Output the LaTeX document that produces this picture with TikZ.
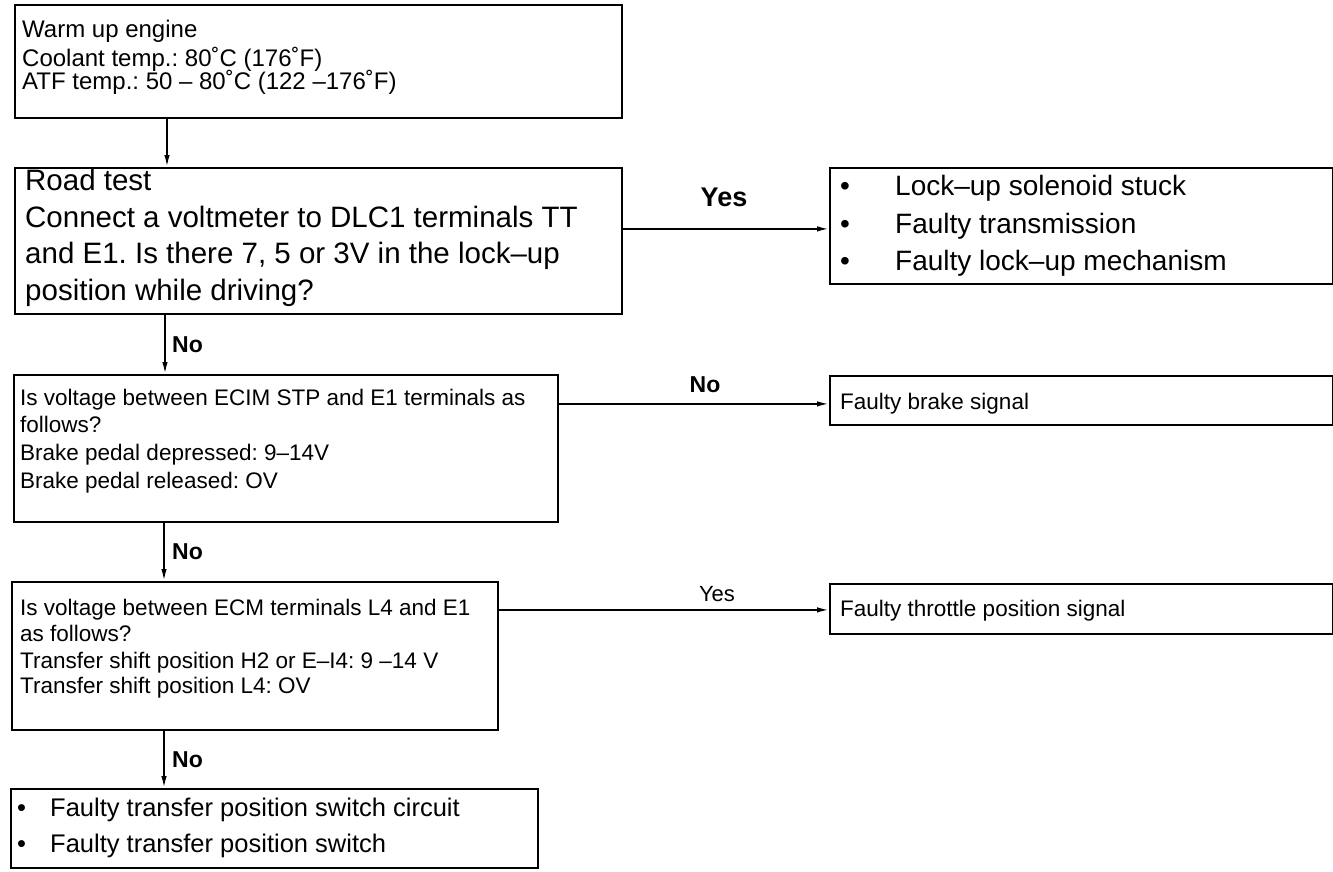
\documentclass[tikz,border=0pt]{standalone}
\usepackage{fontspec}
\setmainfont{Liberation Sans}
\usetikzlibrary{arrows.meta}
\frenchspacing
\newcommand{\fsz}[1]{\fontsize{#1}{#1}\selectfont}
\tikzset{
  box/.style={draw, line width=1.8pt, inner sep=0pt, anchor=north west},
  ln/.style={anchor=base west, inner sep=0pt},
  conn/.style={line width=1.8pt, -{Latex[length=12pt,width=5.5pt]}},
  lblb/.style={inner sep=0pt, font=\bfseries\fsz{23}},
  big/.style={font=\fsz{29.5}},
  bul/.style={font=\fsz{28}},
  mid/.style={font=\fsz{24}},
  sml/.style={font=\fsz{22.5}},
}
\begin{document}
\begin{tikzpicture}[x=1pt,y=-1pt]
\useasboundingbox (0,0) rectangle (1333,871);
% boxes
\node[box, minimum width=607, minimum height=113] (b1) at (14,4) {};
\node[box, minimum width=607, minimum height=146] (b2) at (14,167) {};
\node[box, minimum width=503, minimum height=116] (b3) at (829,167) {};
\node[box, minimum width=544, minimum height=147] (b4) at (13,374) {};
\node[box, minimum width=503, minimum height=49] (b5) at (829,375) {};
\node[box, minimum width=486, minimum height=148] (b6) at (11,581) {};
\node[box, minimum width=503, minimum height=50] (b7) at (829,583) {};
\node[box, minimum width=527, minimum height=79] (b8) at (10,788) {};
% box 1 text
\node[ln, mid] (t11) at (22,37) {Warm up engine};
\node[ln, mid] (t12) at (22,66) {Coolant temp.: 80˚C (176˚F)};
\node[ln, mid] (t13) at (22,89) {ATF temp.: 50 – 80˚C (122 –176˚F)};
% box 2 text
\node[ln, big] (t21) at (25,190) {Road test};
\node[ln, big] (t22) at (25,227) {Connect a voltmeter to DLC1 terminals TT};
\node[ln, big] (t23) at (25,263) {and E1. Is there 7, 5 or 3V in the lock–up};
\node[ln, big] (t24) at (25,300) {position while driving?};
% box 3 text
\node[ln, bul] (p31) at (840,195) {•};
\node[ln, bul] (t31) at (895,195) {Lock–up solenoid stuck};
\node[ln, bul] (p32) at (840,233) {•};
\node[ln, bul] (t32) at (895,233) {Faulty transmission};
\node[ln, bul] (p33) at (840,270) {•};
\node[ln, bul] (t33) at (895,270) {Faulty lock–up mechanism};
% box 4 text
\node[ln, sml] (t41) at (20,405) {Is voltage between ECIM STP and E1 terminals as};
\node[ln, sml] (t42) at (20,432) {follows?};
\node[ln, sml] (t43) at (20,460) {Brake pedal depressed: 9–14V};
\node[ln, sml] (t44) at (20,488) {Brake pedal released: OV};
% box 5 text
\node[ln, sml] (t51) at (840,409) {Faulty brake signal};
% box 6 text
\node[ln, sml] (t61) at (20,615) {Is voltage between ECM terminals L4 and E1};
\node[ln, sml] (t62) at (20,641) {as follows?};
\node[ln, sml] (t63) at (20,668) {Transfer shift position H2 or E–I4: 9 –14 V};
\node[ln, sml] (t64) at (20,693) {Transfer shift position L4: OV};
% box 7 text
\node[ln, sml] (t71) at (840,616) {Faulty throttle position signal};
% box 8 text
\node[ln, font=\fsz{25.5}] (p81) at (17,816) {•};
\node[ln, font=\fsz{25.5}] (t81) at (50,816) {Faulty transfer position switch circuit};
\node[ln, font=\fsz{25.5}] (p82) at (17,852) {•};
\node[ln, font=\fsz{25.5}] (t82) at (50,852) {Faulty transfer position switch};
% connectors
\draw[conn] ([xshift=153]b1.south west) -- ([xshift=153]b2.north west);
\draw[conn] ([xshift=151]b2.south west) -- ([xshift=152]b4.north west);
\draw[conn] ([xshift=151]b4.south west) -- ([xshift=153]b6.north west);
\draw[conn] ([xshift=153]b6.south west) -- ([xshift=154]b8.north west);
\draw[conn] ([yshift=12]b2.east) -- ([yshift=12]b2.east -| b3.west);
\draw[conn] ([yshift=44.5]b4.east) -- ([yshift=44.5]b4.east -| b5.west);
\draw[conn] ([yshift=46]b6.east) -- ([yshift=46]b6.east -| b7.west);
% labels
\node[inner sep=0pt, font=\bfseries\fsz{27}] (yes1) at (724,197) {Yes};
\node[lblb, anchor=west] (no1) at (172,345) {No};
\node[lblb] (no2) at (705,385) {No};
\node[lblb, anchor=west] (no3) at (172,552) {No};
\node[inner sep=0pt, font=\fsz{22}] (yes2) at (717,594) {Yes};
\node[lblb, anchor=west] (no4) at (172,760) {No};
\end{tikzpicture}
\end{document}
